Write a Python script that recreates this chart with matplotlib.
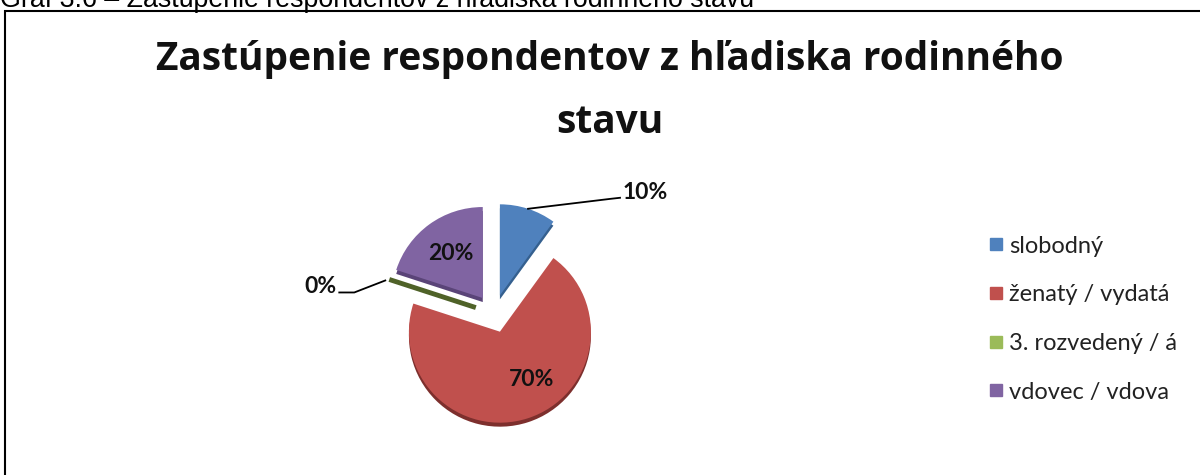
import matplotlib
matplotlib.use("Agg")
import matplotlib.pyplot as plt
from matplotlib.patches import Rectangle
from matplotlib.lines import Line2D
import numpy as np

categories = ["slobodný", "ženatý / vydatá", "3. rozvedený / á", "vdovec / vdova"]
values = [10, 70, 0, 20]
colors = ["#4F81BD", "#C0504D", "#9BBB59", "#8064A2"]
shade = ["#35608F", "#7D2F2D", "#4F6228", "#5A4478"]
title = "Zastúpenie respondentov z hľadiska rodinného\nstavu"
caption = "Graf 3.6 – Zastúpenie respondentov z hľadiska rodinného stavu"

W, H = 1200, 475
fig = plt.figure(figsize=(W / 100, H / 100), dpi=100)
ax = fig.add_axes([0, 0, 1, 1])

cx, cy, R = 494, H - 313.5, 91
explode = [0.21 * R] * len(values)

# 3D rim (shadow copy, shifted down)
ax.pie(values, colors=shade, startangle=90, counterclock=False,
       explode=explode, radius=R, center=(cx, cy - 4),
       wedgeprops=dict(linewidth=0))
wedges, _, autotexts = ax.pie(values, colors=colors, startangle=90, counterclock=False,
                              explode=explode, radius=R, center=(cx, cy),
                              autopct=lambda p: f"{p:.0f}%", pctdistance=0.6,
                              wedgeprops=dict(linewidth=0),
                              textprops=dict(fontsize=16.5, fontweight="bold",
                                             family="Lato", color="#111111"))
# zero slice visible as a thin line
wedges[2].set_edgecolor("#4F6228")
wedges[2].set_linewidth(3.5)

ax.set_xlim(0, W)
ax.set_ylim(0, H)
ax.set_aspect("auto")
ax.axis("off")

def edge_point(w, frac=1.0):
    ang = np.deg2rad((w.theta1 + w.theta2) / 2)
    return (w.center[0] + frac * w.r * np.cos(ang), w.center[1] + frac * w.r * np.sin(ang))

# 70% label placed like Excel
w1 = wedges[1]
autotexts[1].set_position((w1.center[0] + 0.63 * R * np.cos(np.deg2rad(-56)),
                           w1.center[1] + 0.63 * R * np.sin(np.deg2rad(-56))))

# 10% outside with leader
p0 = edge_point(wedges[0])
lx, ly = p0[0] + 92, p0[1] + 11
ax.plot([p0[0], lx - 9, lx], [p0[1], ly - 1, ly], color="black", lw=1.3)
autotexts[0].set_position((lx + 3, ly + 5))
autotexts[0].set_ha("left")
autotexts[0].set_va("center")

# 0% outside with leader
p2 = edge_point(wedges[2])
lx2, ly2 = p2[0] - 35, p2[1] - 13
ax.plot([p2[0] - 4, lx2, lx2 - 15], [p2[1] - 1, ly2, ly2], color="black", lw=1.3)
autotexts[2].set_position((lx2 - 18, ly2 + 6))
autotexts[2].set_ha("right")
autotexts[2].set_va("center")

# title and caption
fig.text(0.508, 1 - 133 / H, title, ha="center", va="baseline", fontsize=28,
         fontweight="bold", family="Open Sans", linespacing=1.81, color="#111111")
fig.text(0.0, 1 - 7 / H, caption, ha="left", va="baseline", fontsize=19.3,
         family="Liberation Sans", color="black")

# outer frame
fig.patches.append(Rectangle((5 / W, -0.1), 1.5, 1 - 11 / H + 0.1,
                             transform=fig.transFigure, fill=False,
                             edgecolor="black", linewidth=1.5))

handles = [Line2D([], [], marker="s", linestyle="none", markersize=8,
                  markerfacecolor=c, markeredgecolor=c) for c in colors]
leg = ax.legend(handles, categories, loc="upper left",
                bbox_to_anchor=(969 / W, 1 - 214.5 / H), bbox_transform=fig.transFigure,
                frameon=False, handlelength=0.5, handletextpad=0.3,
                labelspacing=1.17, prop=dict(family="Lato", size=17))
for t in leg.get_texts():
    t.set_color("#222222")

fig.savefig("out.png", dpi=100)
